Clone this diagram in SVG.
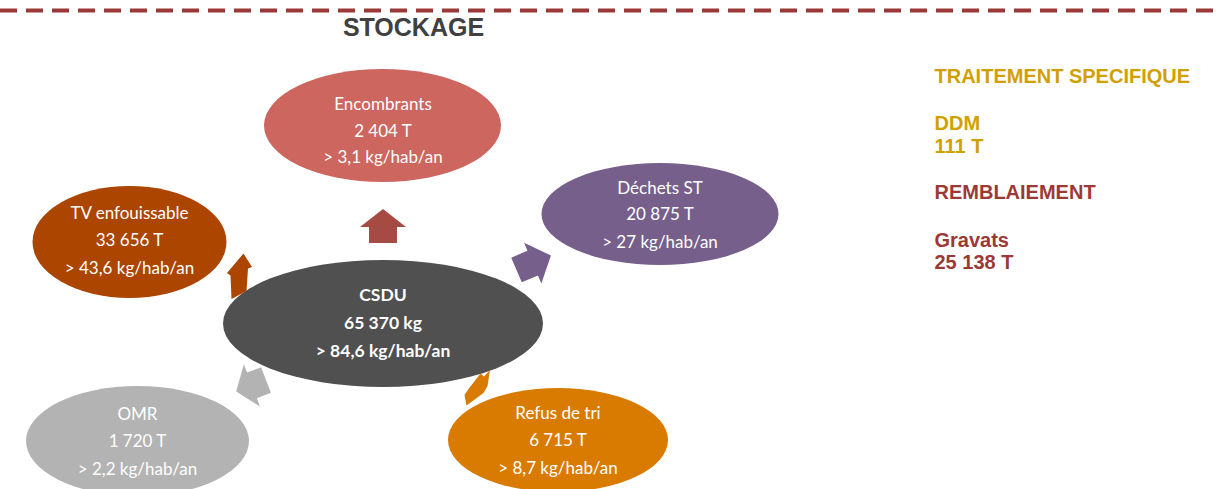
<svg xmlns="http://www.w3.org/2000/svg" width="1216" height="489" viewBox="0 0 1216 489">
<style>
.t{font-family:Lato,"Open Sans",sans-serif;font-size:17px;fill:#fff;text-anchor:middle}
.tb{font-family:Lato,"Open Sans",sans-serif;font-size:17.5px;font-weight:bold;fill:#fff;text-anchor:middle}
.h{font-family:"Liberation Sans",Arial,sans-serif;font-weight:bold}
.gold{fill:#D1A000;font-size:20px}
.red{fill:#9B3936;font-size:20px}
</style>
<defs>
<path id="arr" d="M0,-34 L23,-16 L14,-16 L14,0 L-14,0 L-14,-16 L-23,-16 Z"/>
</defs>
<line x1="0" y1="10.5" x2="1216" y2="10.5" stroke="#9B3936" stroke-width="4" stroke-dasharray="17 9"/>
<text class="h" x="413.5" y="36" font-size="25" fill="#404040" text-anchor="middle">STOCKAGE</text>

<g id="csdu">
<ellipse cx="383" cy="323.5" rx="160" ry="63.5" fill="#505050"/>
<text class="tb" x="383" y="301">CSDU</text>
<text class="tb" x="383" y="328.5">65 370 kg</text>
<text class="tb" x="383" y="356.5">&gt; 84,6 kg/hab/an</text>
</g>
<g id="encombrants">
<ellipse cx="382.5" cy="125.5" rx="118.5" ry="56.5" fill="#CC665E"/>
<text class="t" x="383" y="110">Encombrants</text>
<text class="t" x="383" y="136.5">2 404 T</text>
<text class="t" x="383" y="163">&gt; 3,1 kg/hab/an</text>
</g>
<g id="dechets-st">
<ellipse cx="660" cy="214" rx="118.5" ry="51" fill="#765F8B"/>
<text class="t" x="660" y="193.5">Déchets ST</text>
<text class="t" x="660" y="220">20 875 T</text>
<text class="t" x="660" y="247.5">&gt; 27 kg/hab/an</text>
</g>
<g id="tv-enfouissable">
<ellipse cx="129.5" cy="242" rx="97" ry="56" fill="#AB4500"/>
<text class="t" x="129.5" y="218.5">TV enfouissable</text>
<text class="t" x="129.5" y="246">33 656 T</text>
<text class="t" x="129.5" y="273.5">&gt; 43,6 kg/hab/an</text>
</g>
<g id="omr">
<ellipse cx="137.5" cy="441" rx="111.5" ry="55" fill="#B3B3B3"/>
<text class="t" x="137.5" y="420">OMR</text>
<text class="t" x="137.5" y="447">1 720 T</text>
<text class="t" x="137.5" y="475">&gt; 2,2 kg/hab/an</text>
</g>
<g id="refus-de-tri">
<ellipse cx="558" cy="440" rx="110" ry="52" fill="#D97B00"/>
<text class="t" x="558" y="418.5">Refus de tri</text>
<text class="t" x="558" y="446">6 715 T</text>
<text class="t" x="558" y="473.5">&gt; 8,7 kg/hab/an</text>
</g>

<g id="connectors">
<use href="#arr" transform="translate(383,243)" fill="#A64A44"/>
<use href="#arr" transform="translate(516.5,270) rotate(67) scale(0.96,1.1)" fill="#765F8B"/>
<use href="#arr" transform="translate(266,380) rotate(-111) scale(0.98,0.94)" fill="#B3B3B3"/>
<polygon points="243.5,253.5 252,267 248,268.5 246.5,291 231.5,299 230.5,275.5 227,273" fill="#AB4500"/>
<polygon points="480.5,373.5 484,376.5 490,370 487.5,386 483.5,393 466.5,405.5 464.5,395 468.5,389" fill="#D97B00"/>
</g>

<g id="legend">
<text class="h gold" x="934.5" y="83">TRAITEMENT SPECIFIQUE</text>
<text class="h gold" x="934.5" y="130">DDM</text>
<text class="h gold" x="934.5" y="153">111 T</text>
<text class="h red" x="934.5" y="199">REMBLAIEMENT</text>
<text class="h red" x="934.5" y="246.5">Gravats</text>
<text class="h red" x="934.5" y="268.5">25 138 T</text>
</g>
</svg>
